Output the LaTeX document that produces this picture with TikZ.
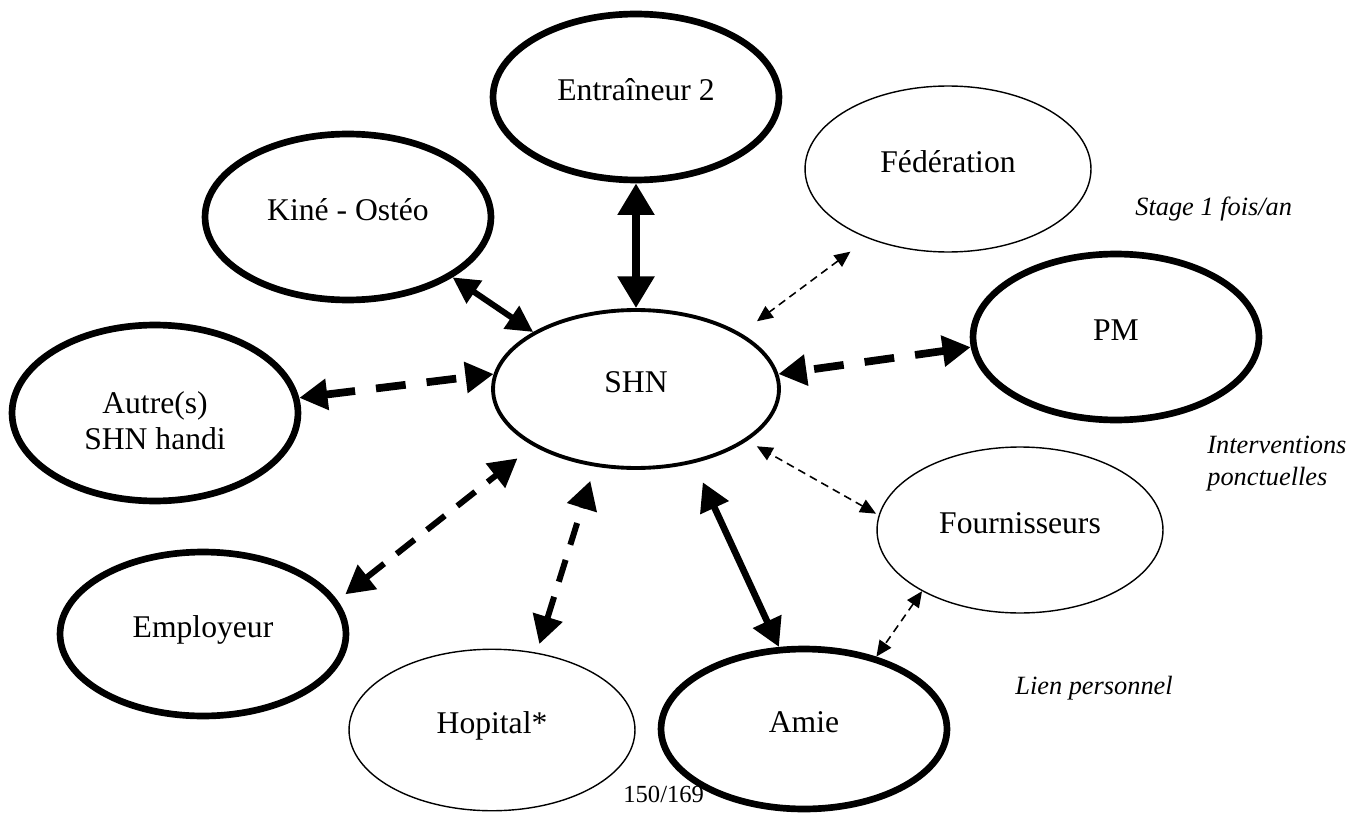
\documentclass[tikz,border=0pt]{standalone}
\usepackage{fontspec}
\setmainfont{Liberation Serif}
\usetikzlibrary{shapes.geometric, arrows.meta}

\begin{document}
\begin{tikzpicture}[
    x=0.02cm, y=-0.02cm,
    bubble/.style={ellipse, draw, fill=white, inner sep=0pt, minimum width=5.72cm, minimum height=3.32cm,
        font=\fontsize{18}{20.7}\selectfont, text height=12pt, text depth=8pt},
    bold/.style={bubble, line width=3.8pt},
    plain/.style={bubble, line width=0.8pt},
    note/.style={font=\fontsize{15}{18}\selectfont\itshape, align=left, inner sep=0pt},
    link/.style={>={Triangle[length=16pt,width=17pt]}, <->, line width=3.8pt},
    dlink/.style={link, dash pattern=on 17pt off 12pt},
    thinlink/.style={>={Triangle[length=9pt,width=8pt]}, <->, line width=0.9pt, dash pattern=on 4.5pt off 3pt}
]
\useasboundingbox (0,0) rectangle (1368,814);

% Page number (under the Amie ellipse)
\node (page) [anchor=base west, inner sep=0pt, font=\fontsize{14}{16}\selectfont] at (623,802) {150/169};

% Nodes
\node (shn) [bubble, line width=2.2pt, minimum height=3.16cm] at (636,389) {SHN};
\node (ent) [bold] at (636,97) {Entraîneur 2};
\node (kine) [bold] at (348,217) {Kiné - Ostéo};
\node (fed) [plain] at (948,169) {Fédération};
\node (pm) [bold] at (1116,337) {PM};
\node (autre) [bold, minimum height=3.52cm, align=center, text height=42pt, text depth=0pt] at (155,413) {Autre(s)\\SHN handi};
\node (four) [plain] at (1020,530) {Fournisseurs};
\node (empl) [bold, minimum height=3.28cm] at (203,634) {Employeur};
\node (hop) [plain, minimum height=3.23cm] at (492,730) {Hopital*};
\node (amie) [bold, minimum height=3.2cm] at (804,729) {Amie};

% Notes
\node (stage) [note, anchor=base west] at (1135,215) {Stage 1 fois/an};
\node (interv) [note, anchor=north west] at (1207,436) {Interventions\\ponctuelles};
\node (lien) [note, anchor=base west] at (1015,694) {Lien personnel};

% Arrows
\draw [link, line width=5pt, >={Triangle[length=18pt,width=20pt]}] (ent) -- (shn);
\draw [link, line width=3.4pt, >={Triangle[length=15pt,width=15pt]}] (kine.-30) -- (shn.151);
\draw [link] (amie.107) -- (shn.-52) [shorten >=0.42cm];
\draw [dlink, line width=4.4pt] (autre.6) -- (shn.174);
\draw [dlink, line width=4.4pt] (pm.184) -- (shn.6);
\draw [dlink, line width=3.4pt, dash pattern=on 13pt off 9pt] (empl.14) -- (shn.209) [shorten <=0.2cm, shorten >=0.4cm];
\draw [dlink, line width=3.4pt, dash pattern=on 13pt off 9pt] (hop.60) -- (shn.242) [shorten <=0.18cm, shorten >=0.3cm];
\draw [thinlink, shorten <=0.44cm, shorten >=0.4cm] (fed.-139) -- (shn.28);
\draw [thinlink, shorten <=0.06cm, shorten >=0.22cm] (four.174) -- (shn.-25);
\draw [thinlink] (four.212) -- (amie.45);

\end{tikzpicture}
\end{document}
